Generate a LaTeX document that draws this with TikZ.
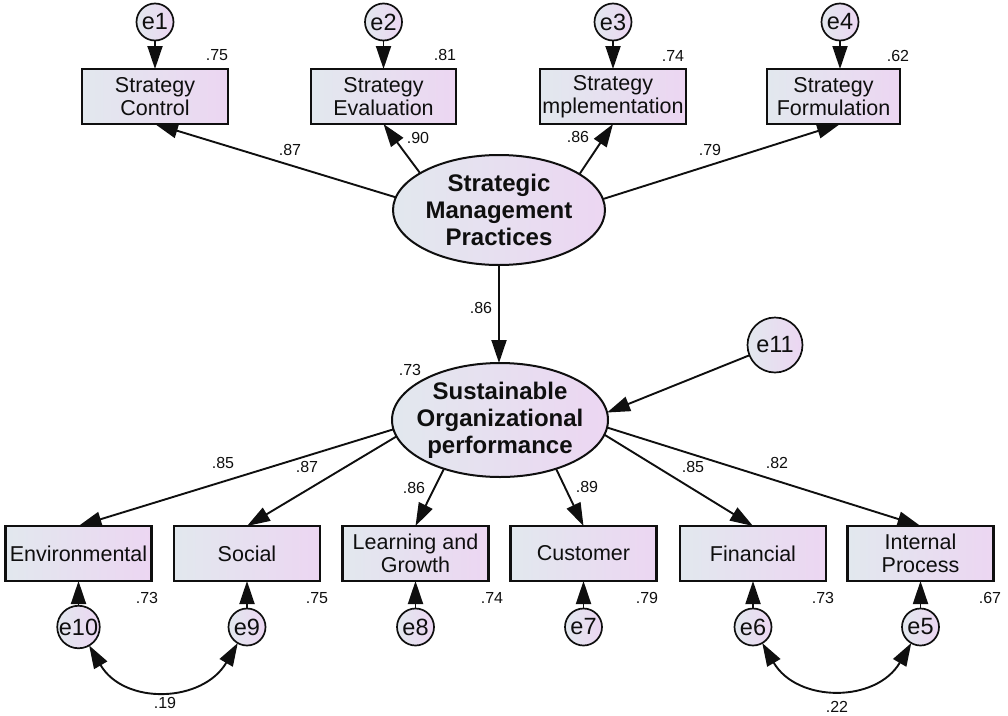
\documentclass[tikz,border=0pt]{standalone}
\usepackage{fontspec}
\setmainfont{Liberation Sans}
\usetikzlibrary{arrows.meta,shapes.geometric}
\definecolor{fillL}{RGB}{226,232,238}
\definecolor{fillR}{RGB}{236,214,242}
\definecolor{ink}{RGB}{15,15,15}

\begin{document}
\begin{tikzpicture}[x=1pt,y=-1pt,
  every node/.style={inner sep=0pt, outer sep=0pt, text=ink},
  obs/.style={draw=ink, line width=2.2pt, left color=fillL, right color=fillR,
    minimum height=55pt, align=center, font=\fontsize{21.5}{23.5}\selectfont},
  lat/.style={ellipse, draw=ink, line width=2pt, left color=fillL, right color=fillR,
    align=center, font=\bfseries\fontsize{24}{27}\selectfont},
  err/.style={circle, draw=ink, line width=1.7pt, left color=fillL, right color=fillR,
    minimum size=37pt, font=\fontsize{23.5}{25}\selectfont},
  num/.style={font=\fontsize{16}{18}\selectfont},
  path/.style={draw=ink, line width=1.9pt, -{Triangle[length=23pt,width=15pt]}},
  cov/.style={draw=ink, line width=1.9pt, {Triangle[length=23pt,width=15pt]}-{Triangle[length=23pt,width=15pt]}}
]
\useasboundingbox (0,0) rectangle (1008,715);

% latent constructs
\node[lat, minimum width=212pt, minimum height=110pt] (smp) at (499,210)
  {Strategic\\Management\\Practices};
\node[lat, inner xsep=-7pt, minimum width=216pt, minimum height=114pt] (sop) at (500,420)
  {Sustainable\\Organizational\\performance};
\node[err, minimum size=55pt] (e11) at (775,345) {e11};

% strategic management indicators
\node[obs, minimum width=146pt] (sc) at (155,96.5) {Strategy\\Control};
\node[obs, minimum width=145pt] (se) at (383.5,96.5) {Strategy\\Evaluation};
\node[obs, minimum width=146pt] (si) at (613,96.5) {Strategy\\mplementation};
\node[obs, minimum width=133pt] (sf) at (833.5,96.5) {Strategy\\Formulation};

\node[err] (e1) at (155,22) {e1};
\node[err] (e2) at (383.5,22) {e2};
\node[err] (e3) at (613,22) {e3};
\node[err] (e4) at (840,22) {e4};

% performance indicators
\node[obs, minimum width=146pt] (env) at (78.5,553.5) {Environmental};
\node[obs, minimum width=146pt] (soc) at (247,553.5) {Social};
\node[obs, minimum width=146pt] (lg) at (415.5,553.5) {Learning and\\Growth};
\node[obs, minimum width=146pt] (cu) at (583.5,553.5) {Customer};
\node[obs, minimum width=146pt] (fin) at (753,553.5) {Financial};
\node[obs, minimum width=146pt] (ip) at (920.5,553.5) {Internal\\Process};

\node[err] (e10) at (78.5,627) {e10};
\node[err] (e9) at (247,627) {e9};
\node[err] (e8) at (415.5,627) {e8};
\node[err] (e7) at (583.5,627) {e7};
\node[err] (e6) at (753,627) {e6};
\node[err] (e5) at (920.5,627) {e5};

% error terms
\draw[path] (e1) -- (sc);
\draw[path] (e2) -- (se);
\draw[path] (e3) -- (si);
\draw[path] (e4) -- (e4 |- sf.north);
\draw[path] (e10) -- (env);
\draw[path] (e9) -- (soc);
\draw[path] (e8) -- (lg);
\draw[path] (e7) -- (cu);
\draw[path] (e6) -- (fin);
\draw[path] (e5) -- (ip);
\draw[path] (e11) -- (sop.4);

% loadings
\draw[path] (smp.173) -- (sc.south);
\draw[path] (smp.155) -- (se.south);
\draw[path] (smp.24) -- (si.south);
\draw[path] (smp.6) -- (e4 |- sf.south);
\draw[path] (smp.south) -- (smp.south |- sop.north);
\draw[path] (sop.185) -- (env.north);
\draw[path] (sop.189) -- (soc.north);
\draw[path] (sop.221) -- (lg.north);
\draw[path] (sop.319) -- (cu.north);
\draw[path] (sop.352) -- (fin.north);
\draw[path] (sop.356) -- (ip.north);

% error covariances
\draw[cov] (e10.-60) .. controls +(35,60) and +(-35,60) .. (e9.-120);
\draw[cov] (e6.-60) .. controls +(35,60) and +(-35,60) .. (e5.-120);

% estimates
\node[num] (r1) at (217,55) {.75};
\node[num] (r2) at (445,55) {.81};
\node[num] (r3) at (673,56) {.74};
\node[num] (r4) at (898,56) {.62};
\node[num] (l1) at (290,150) {.87};
\node[num] (l2) at (418,138) {.90};
\node[num] (l3) at (578,137) {.86};
\node[num] (l4) at (710,150) {.79};
\node[num] (l5) at (481,308) {.86};
\node[num] (r5) at (410,370) {.73};
\node[num] (l6) at (223,463) {.85};
\node[num] (l7) at (307,467) {.87};
\node[num] (l8) at (414,488) {.86};
\node[num] (l9) at (587,487) {.89};
\node[num] (l10) at (693,467) {.85};
\node[num] (l11) at (777,463) {.82};
\node[num] (r6) at (147,598) {.73};
\node[num] (r7) at (317,598) {.75};
\node[num] (r8) at (492,598) {.74};
\node[num] (r9) at (647,598) {.79};
\node[num] (r10) at (823,598) {.73};
\node[num] (r11) at (990,598) {.67};
\node[num] (c1) at (165,703) {.19};
\node[num] (c2) at (837,707) {.22};
\end{tikzpicture}
\end{document}
